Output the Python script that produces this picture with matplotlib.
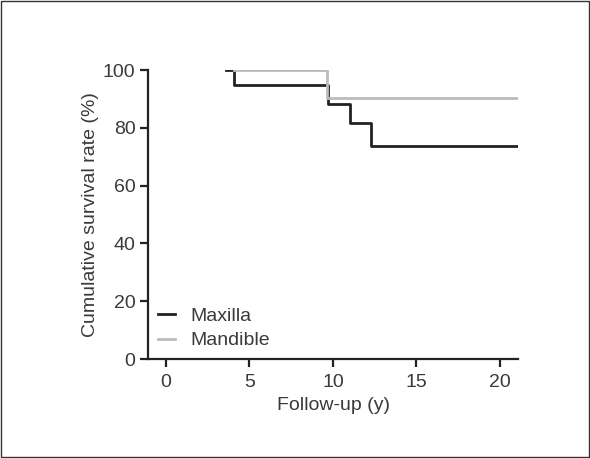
import matplotlib
matplotlib.use('Agg')
import matplotlib.pyplot as plt
from matplotlib.patches import Rectangle

# step points
maxilla_x = [3.6, 4.1, 9.7, 11.0, 12.3, 21.1]
maxilla_y = [100, 95.0, 88.2, 81.8, 73.7, 73.7]
mandible_x = [4.1, 9.65, 21.1]
mandible_y = [100, 90.4, 90.4]
xticks = [0, 5, 10, 15, 20]
yticks = [0, 20, 40, 60, 80, 100]

plt.rcParams['font.family'] = ['Liberation Sans', 'DejaVu Sans']
fs = 14
txt = '#3a3a3a'

fig = plt.figure(figsize=(5.9, 4.58), dpi=100)
ax = fig.add_axes([0.251, 0.216, 0.627, 0.631])

ax.step(maxilla_x, maxilla_y, where='post', color='#222222', lw=2, label='Maxilla')
ax.step(mandible_x, mandible_y, where='post', color='#bbbbbb', lw=2, label='Mandible')

ax.set_xlim(-1.08, 21.1)
ax.set_ylim(0, 100)
ax.set_xticks(xticks)
ax.set_yticks(yticks)
for s in ['top', 'right']:
    ax.spines[s].set_visible(False)
for s in ['left', 'bottom']:
    ax.spines[s].set_linewidth(1.6)
    ax.spines[s].set_color('#222222')
ax.tick_params(length=6, width=1.6, color='#222222', labelcolor=txt, labelsize=fs, pad=3)
ax.tick_params(axis='x', pad=5)
ax.set_xlabel('Follow-up (y)', color=txt, fontsize=fs, labelpad=4)
ax.set_ylabel('Cumulative survival rate (%)', color=txt, fontsize=fs, labelpad=3)

ax.legend(loc='lower left', frameon=False, handlelength=0.9,
          handletextpad=0.8, labelspacing=0.35, fontsize=fs, labelcolor=txt,
          borderaxespad=0.2, borderpad=0.3)

fig.patches.append(Rectangle((0.002, 0.002), 0.996, 0.996, transform=fig.transFigure,
                             fill=False, edgecolor='#333333', lw=1))

fig.savefig('out.png', dpi=100)
